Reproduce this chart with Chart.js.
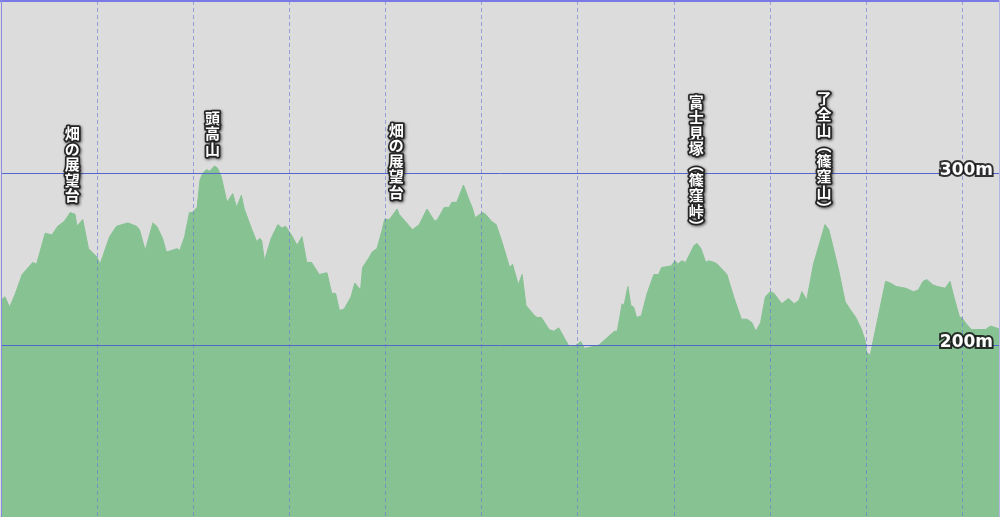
<!DOCTYPE html>
<html>
<head>
<meta charset="utf-8">
<script src="https://cdn.jsdelivr.net/npm/chart.js@4"></script>
<style>
    body { margin: 0; background: #dcdcdc; }
    #profile { display: block; }
</style>
</head>
<body>
<canvas id="profile" width="1000" height="517"></canvas>
<script>
// Distance along the route (km) and elevation (m)
const dist = [
    0.00, 0.04, 0.09, 0.15, 0.22, 0.33, 0.37, 0.46, 0.53, 0.59, 0.66, 0.72, 0.77, 0.79, 0.85, 0.91,
    1.00, 1.03, 1.13, 1.20, 1.32, 1.41, 1.44, 1.50, 1.58, 1.62, 1.68, 1.72, 1.83, 1.86, 1.91, 1.96, 1.99,
    2.04, 2.07, 2.10, 2.14, 2.17, 2.22, 2.25, 2.29, 2.35, 2.41, 2.45, 2.50, 2.53, 2.61, 2.66, 2.69, 2.71,
    2.74, 2.81, 2.88, 2.92, 2.96, 3.02, 3.08, 3.13, 3.18, 3.23, 3.31, 3.39, 3.44, 3.48, 3.52, 3.57, 3.64,
    3.68, 3.74, 3.76, 3.83, 3.86, 3.91, 3.96, 3.99, 4.04, 4.12, 4.14, 4.28, 4.35, 4.43, 4.51, 4.54, 4.61,
    4.66, 4.69, 4.74, 4.81, 4.87, 4.90, 4.93, 5.01, 5.04, 5.10, 5.15, 5.21, 5.29, 5.32, 5.38, 5.42, 5.46,
    5.55, 5.58, 5.62, 5.70, 5.75, 5.80, 5.91, 5.96, 6.03, 6.07, 6.14, 6.22, 6.30, 6.38, 6.41, 6.46, 6.48,
    6.52, 6.55, 6.58, 6.61, 6.66, 6.72, 6.79, 6.84, 6.87, 6.97, 7.01, 7.04, 7.08, 7.12, 7.21, 7.24, 7.28,
    7.33, 7.36, 7.42, 7.45, 7.55, 7.62, 7.70, 7.76, 7.81, 7.85, 7.90, 7.95, 8.00, 8.04, 8.12, 8.19, 8.25,
    8.30, 8.33, 8.38, 8.45, 8.57, 8.61, 8.71, 8.78, 8.84, 8.89, 8.95, 8.99, 9.00, 9.04, 9.20, 9.25, 9.31,
    9.41, 9.49, 9.54, 9.59, 9.63, 9.69, 9.74, 9.82, 9.87, 9.91, 9.97, 9.99, 10.03, 10.09, 10.24, 10.29,
    10.35, 10.39
];
const elev = [
    226, 228, 222, 230, 241, 248, 247, 265, 264, 269, 272, 277, 276, 269, 273, 256,
    251, 247, 263, 269, 271, 269, 267, 255, 271, 269, 262, 254, 256, 255, 263, 277, 277,
    280, 296, 300, 302, 301, 304, 303, 298, 283, 288, 280, 287, 279, 267, 260, 262, 261,
    249, 262, 270, 268, 269, 264, 258, 263, 248, 248, 241, 242, 230, 230, 220, 221, 228,
    236, 232, 245, 251, 254, 256, 266, 273, 273, 279, 276, 267, 270, 279, 272, 273, 280,
    280, 283, 283, 293, 284, 280, 274, 277, 276, 272, 270, 260, 245, 247, 235, 241, 223,
    217, 216, 216, 209, 208, 210, 199, 199, 202, 198, 199, 200, 204, 208, 208, 224, 223,
    234, 223, 222, 216, 217, 230, 241, 241, 245, 246, 249, 247, 249, 248, 258, 259, 256,
    248, 249, 248, 247, 241, 228, 215, 215, 213, 208, 213, 228, 231, 230, 224, 227, 224,
    226, 231, 226, 247, 270, 267, 244, 225, 220, 216, 209, 202, 196, 194, 237, 236, 234,
    233, 231, 232, 237, 238, 235, 234, 233, 237, 228, 216, 216, 213, 209, 209, 211,
    210, 209
];

// Gridlines
const gridKm = [1, 2, 3, 4, 5, 6, 7, 8, 9, 10];
const gridElev = [200, 300];

// Summits along the route
const peakNames = ['畑の展望台', '頭高山', '畑の展望台', '富士見塚（篠窪峠）', '了全山（篠窪山）'];
const peakDist = [0.74, 2.20, 4.11, 7.23, 8.56];

const GREEN = '#87c293';

// Grey plot background
const backgroundPlugin = {
    id: 'background',
    beforeDraw(chart) {
        const ctx = chart.ctx;
        ctx.save();
        ctx.fillStyle = '#dcdcdc';
        ctx.fillRect(0, 0, chart.width, chart.height);
        ctx.restore();
    }
};

// Vertical summit names + blue frame
const labelsPlugin = {
    id: 'peakLabels',
    afterDraw(chart) {
        const ctx = chart.ctx;
        const xs = chart.scales.x;
        const ys = chart.scales.y;
        const step = 15.6;

        ctx.save();
        ctx.font = 'bold 15px "Noto Sans CJK JP"';
        ctx.textAlign = 'center';
        ctx.textBaseline = 'middle';
        ctx.lineJoin = 'round';

        peakNames.forEach((name, i) => {
            // highest point near the summit
            let top = -Infinity;
            dist.forEach((d, j) => {
                if (Math.abs(d - peakDist[i]) < 0.08) top = Math.max(top, elev[j]);
            });
            const chars = Array.from(name.replace(/（/g, '︵').replace(/）/g, '︶'));
            const x = xs.getPixelForValue(peakDist[i]);
            const bottom = ys.getPixelForValue(top) - 9;
            const start = bottom - chars.length * step;

            chars.forEach((c, k) => {
                const y = start + step * (k + 0.5);
                ctx.shadowColor = 'rgba(0,0,0,0.6)';
                ctx.shadowBlur = 3;
                ctx.shadowOffsetX = 1;
                ctx.shadowOffsetY = 1;
                ctx.strokeStyle = '#262626';
                ctx.lineWidth = 3.5;
                ctx.strokeText(c, x, y);
                ctx.shadowColor = 'transparent';
                ctx.fillStyle = '#ffffff';
                ctx.fillText(c, x, y);
            });
        });

        // frame
        ctx.fillStyle = '#7a7ae6';
        ctx.fillRect(0, 0, chart.width, 2);
        ctx.fillStyle = '#8a8ae2';
        ctx.fillRect(1, 0, 1, chart.height);
        ctx.fillStyle = '#b4b4e4';
        ctx.fillRect(chart.width - 1, 0, 1, chart.height);
        ctx.restore();
    }
};

function noPadding(s) {
    s.paddingTop = 0;
    s.paddingBottom = 0;
    s.paddingLeft = 0;
    s.paddingRight = 0;
}

new Chart(document.getElementById('profile').getContext('2d'), {
    type: 'line',
    data: {
        datasets: [{
            data: dist.map((d, i) => ({ x: d, y: elev[i] })),
            backgroundColor: GREEN,
            borderColor: GREEN,
            borderWidth: 1,
            pointRadius: 0,
            tension: 0,
            fill: 'start'
        }, {
            // start marker
            data: [{ x: dist[0], y: elev[0] - 4 }],
            pointStyle: 'rect',
            pointRadius: 3,
            backgroundColor: '#a8321e',
            borderColor: '#6a2a10',
            borderWidth: 1,
            showLine: false
        }]
    },
    options: {
        responsive: false,
        animation: false,
        devicePixelRatio: 1,
        layout: { autoPadding: false, padding: { left: 1, top: 1, right: 0, bottom: 0 } },
        plugins: {
            legend: { display: false },
            tooltip: { enabled: false }
        },
        scales: {
            x: {
                type: 'linear',
                min: 0,
                max: 10.39,
                afterBuildTicks: (s) => { s.ticks = gridKm.map(v => ({ value: v })); },
                afterFit: (s) => { s.height = 0; noPadding(s); },
                ticks: { display: false },
                border: { display: false, dash: [4, 3] },
                grid: {
                    z: 1,
                    drawTicks: false,
                    color: 'rgba(105, 115, 215, 0.6)',
                    lineWidth: 1
                }
            },
            y: {
                position: 'right',
                min: 100,
                max: 400,
                afterBuildTicks: (s) => { s.ticks = gridElev.map(v => ({ value: v })); },
                afterFit: (s) => { s.width = 0; noPadding(s); },
                border: { display: false },
                grid: {
                    z: 1,
                    drawTicks: false,
                    color: '#5366cc',
                    lineWidth: 1
                },
                ticks: {
                    z: 2,
                    mirror: true,
                    padding: -7,
                    labelOffset: -2,
                    color: '#ffffff',
                    textStrokeColor: 'rgba(20,20,20,0.85)',
                    textStrokeWidth: 4,
                    font: { family: 'DejaVu Sans', size: 17, weight: 'bold' },
                    callback: (v) => v + 'm'
                }
            }
        }
    },
    plugins: [backgroundPlugin, labelsPlugin]
});
</script>
</body>
</html>
